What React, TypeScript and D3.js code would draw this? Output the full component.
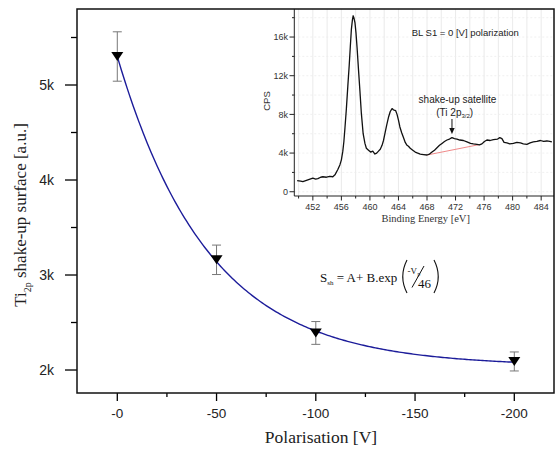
import React from 'react';
import * as d3 from 'd3';

// ---------- main plot data ----------
const polarisation = [0, -50, -100, -200];
const shakeUp = [5300, 3160, 2390, 2090];
const shakeUpErr = [260, 155, 120, 100];
// fit parameters (S = A + B.exp(-Vp/46))
const fitA = 2040;
const fitB = 3260;
const fitTau = 46;
const fitStart = 0;
const fitEnd = -200;
const xTicks = [0, -50, -100, -150, -200];
const xMinorTicks = [-25, -75, -125, -175];
const yTicks = [2000, 3000, 4000, 5000];
const yMinorTicks = [2500, 3500, 4500, 5500];

// ---------- inset spectrum data ----------
const energy = [449.8, 450.3, 450.6, 451.0, 451.6, 452.0, 452.4, 452.7, 453.1, 453.4, 453.9, 454.4, 454.8, 455.1, 455.5, 455.8, 456.0, 456.2, 456.35, 456.5, 456.7, 456.9, 457.1, 457.25, 457.4, 457.55, 457.65, 457.75, 457.9, 458.05, 458.2, 458.4, 458.6, 458.8, 459.05, 459.3, 459.5, 459.8, 460.1, 460.4, 460.7, 460.95, 461.2, 461.45, 461.7, 461.9, 462.1, 462.35, 462.6, 462.85, 463.1, 463.25, 463.4, 463.6, 463.8, 464.0, 464.2, 464.45, 464.7, 464.95, 465.2, 465.4, 465.65, 466.0, 466.35, 466.7, 467.05, 467.5, 468.0, 468.35, 468.7, 469.05, 469.4, 469.75, 470.1, 470.45, 470.8, 471.15, 471.5, 471.85, 472.2, 472.6, 473.1, 473.6, 474.1, 474.5, 475.0, 475.35, 475.7, 476.05, 476.4, 476.85, 477.3, 477.9, 478.2, 478.5, 478.8, 479.2, 479.6, 480.1, 480.6, 481.1, 481.5, 482.0, 482.45, 482.9, 483.4, 483.9, 484.35, 484.8, 485.2, 485.5];
const cps = [1150, 1100, 1050, 1150, 1300, 1400, 1300, 1350, 1500, 1550, 1500, 1600, 1550, 1750, 2300, 2800, 3300, 4200, 5200, 6600, 8600, 10900, 13100, 15000, 16800, 17800, 18200, 18000, 17500, 16400, 14900, 12600, 10400, 8100, 6000, 5000, 4500, 4300, 4100, 4200, 3900, 4000, 4200, 4400, 4800, 5300, 6000, 6900, 7700, 8300, 8600, 8500, 8450, 8400, 8000, 7400, 6700, 6100, 5600, 5100, 4800, 4700, 4500, 4300, 4100, 4000, 3900, 3850, 3800, 3900, 4100, 4300, 4550, 4800, 5000, 5200, 5350, 5450, 5600, 5500, 5450, 5350, 5300, 5150, 5000, 4950, 4900, 4850, 4950, 5200, 5350, 5300, 5400, 5450, 5600, 5500, 5100, 5050, 4950, 5000, 5100, 5050, 4950, 4900, 5050, 5150, 5200, 5300, 5200, 5250, 5200, 5150];
const baselineE = [468.0, 475.5];
const baselineCps = [3800, 4900];
const insetXTicks = [452, 456, 460, 464, 468, 472, 476, 480, 484];
const insetXMinor = [450, 454, 458, 462, 466, 470, 474, 478, 482];
const insetYTicks = [0, 4000, 8000, 12000, 16000];
const insetYMinor = [2000, 6000, 10000, 14000, 18000];
const satelliteE = 471.5;

const SANS = 'Liberation Sans, Arial, sans-serif';
const SERIF = 'Liberation Serif, Times New Roman, serif';

export default function App() {
  // main scales
  const x = d3.scaleLinear().domain([20.3, -220]).range([77, 554]);
  const y = d3.scaleLinear().domain([1758, 5800]).range([393, 9]);

  const fitX = d3.range(fitStart, fitEnd - 0.5, -1);
  const fitLine = d3
    .line<number>()
    .x((v) => x(v))
    .y((v) => y(fitA + fitB * Math.exp(v / fitTau)))(fitX);

  // inset scales
  const ix = d3.scaleLinear().domain([449.4, 485.8]).range([294.3, 554]);
  const iy = d3.scaleLinear().domain([-440, 18900]).range([196, 9]);
  const spec = d3
    .line<number>()
    .x((_, i) => ix(energy[i]))
    .y((v) => iy(v))(cps);
  const base = d3
    .line<number>()
    .x((_, i) => ix(baselineE[i]))
    .y((v) => iy(v))(baselineCps);

  const gridXs = d3.range(450, 486, 2);
  const gridYs = d3.range(0, 19000, 2000);

  return (
    <svg width={558} height={452} style={{ position: 'absolute', left: 0, top: 0, background: '#fff' }}>
      <rect x={0} y={0} width={558} height={452} fill="#fff" />

      {/* fit curve */}
      <path d={fitLine ?? ''} fill="none" stroke="#1c1c9a" strokeWidth={1.4} />

      {/* error bars + markers */}
      {polarisation.map((p, i) => {
        const cx = x(p);
        const cy = y(shakeUp[i]);
        const t = y(shakeUp[i] + shakeUpErr[i]);
        const b = y(shakeUp[i] - shakeUpErr[i]);
        return (
          <g key={i}>
            <line x1={cx} x2={cx} y1={t} y2={b} stroke="#777" strokeWidth={1} />
            <line x1={cx - 4.5} x2={cx + 4.5} y1={t} y2={t} stroke="#777" strokeWidth={1} />
            <line x1={cx - 4.5} x2={cx + 4.5} y1={b} y2={b} stroke="#777" strokeWidth={1} />
            <path d={`M${cx - 6},${cy - 4.5}L${cx + 6},${cy - 4.5}L${cx},${cy + 4.5}Z`} fill="#000" />
          </g>
        );
      })}

      {/* main y ticks */}
      {yTicks.map((v) => (
        <g key={v}>
          <line x1={65} x2={77} y1={y(v)} y2={y(v)} stroke="#000" strokeWidth={1.3} />
          <text x={54} y={y(v)} dy="0.35em" textAnchor="end" fontFamily={SANS} fontSize={14} fill="#222">
            {v / 1000}k
          </text>
        </g>
      ))}
      {yMinorTicks.map((v) => (
        <line key={v} x1={71} x2={77} y1={y(v)} y2={y(v)} stroke="#000" strokeWidth={1.3} />
      ))}
      {/* main x ticks */}
      {xTicks.map((v) => (
        <g key={v}>
          <line x1={x(v)} x2={x(v)} y1={393} y2={401} stroke="#000" strokeWidth={1.3} />
          <text x={x(v)} y={418} textAnchor="middle" fontFamily={SANS} fontSize={13.5} fill="#222">
            {v === 0 ? '-0' : String(v)}
          </text>
        </g>
      ))}
      {xMinorTicks.map((v) => (
        <line key={v} x1={x(v)} x2={x(v)} y1={393} y2={397} stroke="#000" strokeWidth={1.3} />
      ))}

      {/* axis titles */}
      <text x={321} y={443} textAnchor="middle" fontFamily={SERIF} fontSize={17.5} fill="#222">
        Polarisation [V]
      </text>
      <text
        transform="translate(26,215) rotate(-90)"
        textAnchor="middle"
        fontFamily={SERIF}
        fontSize={17}
        fill="#222"
      >
        Ti
        <tspan fontSize={10} dy={5}>2p</tspan>
        <tspan dy={-5}> shake-up surface [a.u.]</tspan>
      </text>

      {/* formula */}
      <text x={320} y={282} fontFamily={SERIF} fontSize={13} fill="#111">
        S<tspan fontSize={7} dy={3}>sh</tspan>
        <tspan dy={-3}> = A+ B.exp</tspan>
      </text>
      <path d="M407,260 Q398.5,276.5 407,293" fill="none" stroke="#111" strokeWidth={1.1} />
      <path d="M434,260 Q442.5,276.5 434,293" fill="none" stroke="#111" strokeWidth={1.1} />
      <text x={407.5} y={274} fontFamily={SERIF} fontSize={9} fill="#111">
        -V
      </text>
      <text x={417.5} y={276} fontFamily={SERIF} fontSize={5.5} fill="#111">
        p
      </text>
      <line x1={412} y1={287.5} x2={424} y2={266} stroke="#111" strokeWidth={1} />
      <text x={418} y={288} fontFamily={SERIF} fontSize={13} fill="#111">
        46
      </text>

      {/* ---------- inset ---------- */}
      <rect x={250} y={9} width={304} height={223} fill="#fff" />
      <g>
        {gridXs.map((e) => (
          <line key={'gx' + e} x1={ix(e)} x2={ix(e)} y1={9} y2={196} stroke="#e4e4e4" strokeWidth={0.8} />
        ))}
        {gridYs.map((c) => (
          <line key={'gy' + c} x1={294.3} x2={554} y1={iy(c)} y2={iy(c)} stroke="#ececec" strokeWidth={0.8} strokeDasharray="2,2" />
        ))}
      </g>
      <path d={base ?? ''} fill="none" stroke="#f08a8a" strokeWidth={1} />
      <path d={spec ?? ''} fill="none" stroke="#111" strokeWidth={1.3} strokeLinejoin="round" />

      {/* inset axes */}
      <line x1={294.3} x2={294.3} y1={9} y2={196} stroke="#222" strokeWidth={1} />
      <line x1={294.3} x2={554} y1={196} y2={196} stroke="#222" strokeWidth={1} />
      {insetYTicks.map((c) => (
        <g key={'iy' + c}>
          <line x1={289.5} x2={294.3} y1={iy(c)} y2={iy(c)} stroke="#222" strokeWidth={1} />
          <text x={288} y={iy(c)} dy="0.35em" textAnchor="end" fontFamily={SANS} fontSize={9} fill="#333">
            {c === 0 ? '0' : `${c / 1000}k`}
          </text>
        </g>
      ))}
      {insetYMinor.map((c) => (
        <line key={'iym' + c} x1={292} x2={294.3} y1={iy(c)} y2={iy(c)} stroke="#222" strokeWidth={1} />
      ))}
      {insetXTicks.map((e) => (
        <g key={'ix' + e}>
          <line x1={ix(e)} x2={ix(e)} y1={196} y2={200.5} stroke="#222" strokeWidth={1} />
          <text x={ix(e)} y={210} textAnchor="middle" fontFamily={SANS} fontSize={9} fill="#333">
            {e}
          </text>
        </g>
      ))}
      {insetXMinor.map((e) => (
        <line key={'ixm' + e} x1={ix(e)} x2={ix(e)} y1={196} y2={198.5} stroke="#222" strokeWidth={1} />
      ))}
      <text transform="translate(270,101) rotate(-90)" textAnchor="middle" fontFamily={SANS} fontSize={9.5} fill="#333">
        CPS
      </text>
      <text x={425.7} y={222} textAnchor="middle" fontFamily={SERIF} fontSize={10.5} fill="#333">
        Binding Energy [eV]
      </text>
      <text x={411.7} y={35.5} fontFamily={SANS} fontSize={9.5} fill="#222">
        BL S1 = 0 [V] polarization
      </text>
      <text x={457.5} y={103} textAnchor="middle" fontFamily={SANS} fontSize={10} fill="#222">
        shake-up satellite
      </text>
      <text x={454.7} y={115.5} textAnchor="middle" fontFamily={SANS} fontSize={10} fill="#222">
        (Ti 2p<tspan fontSize={6} dy={2}>3/2</tspan>
        <tspan dy={-2}>)</tspan>
      </text>
      <line x1={ix(satelliteE)} x2={ix(satelliteE)} y1={119} y2={129} stroke="#111" strokeWidth={1} />
      <path
        d={`M${ix(satelliteE) - 2.7},${128}L${ix(satelliteE) + 2.7},${128}L${ix(satelliteE)},${134}Z`}
        fill="#111"
      />

      {/* main frame */}
      <rect x={77} y={9} width={477} height={384} fill="none" stroke="#111" strokeWidth={1.5} />
    </svg>
  );
}
